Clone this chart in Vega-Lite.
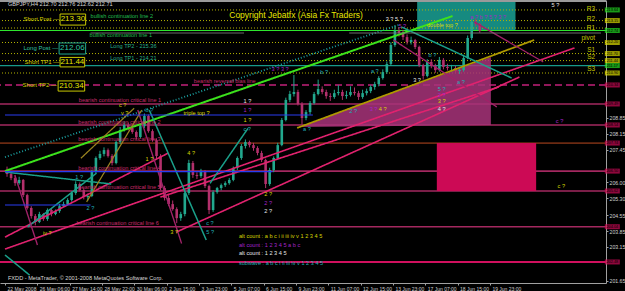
{
"$schema":"https://vega.github.io/schema/vega-lite/v6.json",
"width":606,"height":283,
"autosize":{"type":"none"},
"padding":{"left":0,"top":0,"right":19,"bottom":8},
"background":"#000000",
"config":{"view":{"stroke":null},"font":"Liberation Sans",
 "axisX":{"labelAlign":"left","labelBaseline":"top","labelOffset":2,"labelPadding":1,"labelFontSize":5,"labelColor":"#d0d0d0","labelOverlap":false,"labelBound":false,"labelFlush":false,"tickSize":2,"tickColor":"#a0a0a0","domainColor":"#a0a0a0","grid":false},
 "axisY":{"labelFontSize":5.2,"labelColor":"#d0d0d0","labelPadding":1,"tickSize":2,"tickColor":"#a0a0a0","domainColor":"#a0a0a0","grid":false,"labelOverlap":false,"labelBound":false,"labelFlush":false,"labelAlign":"left"}},
"datasets":{
"zones":[{"x":101.50,"x2":125.84,"p":213.98,"p2":212.70,"zone":"teal zone"},{"x":106.37,"x2":130.95,"p":207.74,"p2":205.62,"zone":"pink zone"}],
"hlevels":[{"p":213.63,"kind":"pivot"},{"p":213.16,"kind":"pivot"},{"p":212.83,"kind":"pivot"},{"p":212.19,"kind":"pivot"},{"p":211.70,"kind":"pivot"},{"p":211.39,"kind":"pivot"},{"p":210.84,"kind":"pivot"},{"p":212.72,"kind":"bullish continuation"},{"p":211.17,"kind":"long entry"},{"p":210.31,"kind":"bias"},{"p":209.47,"kind":"critical"},{"p":208.54,"kind":"critical"},{"p":207.74,"kind":"critical 3"},{"p":206.50,"kind":"critical"},{"p":205.62,"kind":"critical"},{"p":204.04,"kind":"critical"},{"p":202.48,"kind":"support"},{"p":214.03,"kind":"frame"}],
"triangle":[{"x":72.28,"top":208.45,"bot":208.45},{"x":119.75,"top":211.55,"bot":208.54}],
"candles":[
{"x":0,"o":206.55,"h":206.70,"l":206.25,"c":206.37},
{"x":1,"o":206.37,"h":206.50,"l":206.10,"c":206.19},
{"x":2,"o":206.19,"h":206.30,"l":205.85,"c":205.97},
{"x":3,"o":205.97,"h":206.25,"l":205.90,"c":206.11},
{"x":4,"o":206.11,"h":206.15,"l":205.35,"c":205.44},
{"x":5,"o":205.44,"h":205.50,"l":204.80,"c":204.87},
{"x":6,"o":204.87,"h":204.95,"l":204.40,"c":204.51},
{"x":7,"o":204.51,"h":204.60,"l":204.10,"c":204.25},
{"x":8,"o":204.25,"h":204.70,"l":204.20,"c":204.60},
{"x":9,"o":204.60,"h":204.65,"l":204.30,"c":204.38},
{"x":10,"o":204.38,"h":204.85,"l":204.30,"c":204.78},
{"x":11,"o":204.78,"h":204.85,"l":204.50,"c":204.60},
{"x":12,"o":204.60,"h":204.80,"l":204.55,"c":204.73},
{"x":13,"o":204.73,"h":205.05,"l":204.65,"c":204.95},
{"x":14,"o":204.95,"h":205.15,"l":204.90,"c":205.04},
{"x":15,"o":205.04,"h":205.30,"l":205.00,"c":205.22},
{"x":16,"o":205.22,"h":205.60,"l":205.15,"c":205.53},
{"x":17,"o":205.53,"h":206.05,"l":205.45,"c":205.93},
{"x":18,"o":205.93,"h":206.00,"l":205.60,"c":205.66},
{"x":19,"o":205.66,"h":205.75,"l":205.25,"c":205.35},
{"x":20,"o":205.35,"h":205.50,"l":205.20,"c":205.40},
{"x":21,"o":205.40,"h":206.55,"l":205.35,"c":206.46},
{"x":22,"o":206.46,"h":207.15,"l":206.40,"c":207.08},
{"x":23,"o":207.08,"h":207.40,"l":207.00,"c":207.26},
{"x":24,"o":207.26,"h":207.55,"l":207.15,"c":207.43},
{"x":25,"o":207.43,"h":207.50,"l":207.10,"c":207.17},
{"x":26,"o":207.17,"h":207.25,"l":206.75,"c":206.86},
{"x":27,"o":206.86,"h":207.85,"l":206.80,"c":207.79},
{"x":28,"o":207.79,"h":208.45,"l":207.70,"c":208.32},
{"x":29,"o":208.32,"h":208.70,"l":208.25,"c":208.54},
{"x":30,"o":208.54,"h":208.65,"l":208.30,"c":208.41},
{"x":31,"o":208.41,"h":208.50,"l":208.15,"c":208.23},
{"x":32,"o":208.23,"h":208.30,"l":207.90,"c":208.01},
{"x":33,"o":208.01,"h":208.55,"l":207.95,"c":208.49},
{"x":34,"o":208.49,"h":209.05,"l":208.40,"c":208.94},
{"x":35,"o":208.94,"h":209.00,"l":208.20,"c":208.27},
{"x":36,"o":208.27,"h":208.35,"l":207.80,"c":207.87},
{"x":37,"o":207.87,"h":207.95,"l":207.05,"c":207.17},
{"x":38,"o":207.17,"h":207.25,"l":205.65,"c":205.75},
{"x":39,"o":205.75,"h":205.85,"l":205.20,"c":205.31},
{"x":40,"o":205.31,"h":205.45,"l":204.95,"c":205.04},
{"x":41,"o":205.04,"h":205.20,"l":204.75,"c":204.82},
{"x":42,"o":204.82,"h":204.90,"l":204.20,"c":204.42},
{"x":43,"o":204.42,"h":204.70,"l":204.30,"c":204.60},
{"x":44,"o":204.60,"h":205.60,"l":204.50,"c":205.53},
{"x":45,"o":205.53,"h":207.00,"l":205.45,"c":206.86},
{"x":46,"o":206.86,"h":206.95,"l":206.20,"c":206.33},
{"x":47,"o":206.33,"h":206.45,"l":206.15,"c":206.28},
{"x":48,"o":206.28,"h":206.60,"l":206.20,"c":206.50},
{"x":49,"o":206.50,"h":206.55,"l":205.75,"c":205.84},
{"x":50,"o":205.84,"h":205.90,"l":204.60,"c":204.78},
{"x":51,"o":204.78,"h":205.65,"l":204.70,"c":205.57},
{"x":52,"o":205.57,"h":205.80,"l":205.50,"c":205.75},
{"x":53,"o":205.75,"h":205.95,"l":205.65,"c":205.88},
{"x":54,"o":205.88,"h":206.05,"l":205.80,"c":205.97},
{"x":55,"o":205.97,"h":206.20,"l":205.90,"c":206.11},
{"x":56,"o":206.11,"h":206.70,"l":206.05,"c":206.64},
{"x":57,"o":206.64,"h":207.15,"l":206.55,"c":207.08},
{"x":58,"o":207.08,"h":207.70,"l":207.00,"c":207.61},
{"x":59,"o":207.61,"h":207.90,"l":207.50,"c":207.79},
{"x":60,"o":207.79,"h":207.85,"l":207.55,"c":207.65},
{"x":61,"o":207.65,"h":207.75,"l":207.40,"c":207.52},
{"x":62,"o":207.52,"h":207.60,"l":207.20,"c":207.30},
{"x":63,"o":207.30,"h":207.40,"l":206.90,"c":206.99},
{"x":64,"o":206.99,"h":207.05,"l":205.75,"c":205.93},
{"x":65,"o":205.93,"h":206.65,"l":205.85,"c":206.55},
{"x":66,"o":206.55,"h":207.15,"l":206.45,"c":207.08},
{"x":67,"o":207.08,"h":207.75,"l":207.00,"c":207.65},
{"x":68,"o":207.65,"h":208.85,"l":207.60,"c":208.76},
{"x":69,"o":208.76,"h":209.75,"l":208.70,"c":209.65},
{"x":70,"o":209.65,"h":210.05,"l":209.55,"c":209.91},
{"x":71,"o":209.91,"h":210.75,"l":209.80,"c":210.00},
{"x":72,"o":210.00,"h":210.10,"l":209.40,"c":209.47},
{"x":73,"o":209.47,"h":209.55,"l":208.55,"c":208.85},
{"x":74,"o":208.85,"h":209.20,"l":208.75,"c":209.11},
{"x":75,"o":209.11,"h":209.60,"l":209.00,"c":209.51},
{"x":76,"o":209.51,"h":210.00,"l":209.45,"c":209.91},
{"x":77,"o":209.91,"h":210.55,"l":209.85,"c":210.13},
{"x":78,"o":210.13,"h":210.25,"l":209.90,"c":210.00},
{"x":79,"o":210.00,"h":210.10,"l":209.70,"c":209.82},
{"x":80,"o":209.82,"h":209.95,"l":209.60,"c":209.78},
{"x":81,"o":209.78,"h":210.10,"l":209.70,"c":209.95},
{"x":82,"o":209.95,"h":210.30,"l":209.85,"c":210.00},
{"x":83,"o":210.00,"h":210.10,"l":209.65,"c":209.82},
{"x":84,"o":209.82,"h":210.05,"l":209.70,"c":209.87},
{"x":85,"o":209.87,"h":210.25,"l":209.80,"c":210.00},
{"x":86,"o":210.00,"h":210.20,"l":209.85,"c":209.95},
{"x":87,"o":209.95,"h":210.05,"l":209.65,"c":209.78},
{"x":88,"o":209.78,"h":210.10,"l":209.70,"c":209.95},
{"x":89,"o":209.95,"h":210.15,"l":209.85,"c":210.04},
{"x":90,"o":210.04,"h":210.30,"l":209.95,"c":210.22},
{"x":91,"o":210.22,"h":210.45,"l":210.10,"c":210.35},
{"x":92,"o":210.35,"h":210.70,"l":210.25,"c":210.62},
{"x":93,"o":210.62,"h":211.00,"l":210.55,"c":210.88},
{"x":94,"o":210.88,"h":211.35,"l":210.80,"c":211.24},
{"x":95,"o":211.24,"h":212.20,"l":211.15,"c":212.08},
{"x":96,"o":212.08,"h":212.95,"l":212.00,"c":212.70},
{"x":97,"o":212.70,"h":212.85,"l":212.45,"c":212.61},
{"x":98,"o":212.61,"h":212.75,"l":212.30,"c":212.43},
{"x":99,"o":212.43,"h":212.55,"l":212.10,"c":212.21},
{"x":100,"o":212.21,"h":212.45,"l":212.10,"c":212.30},
{"x":101,"o":212.30,"h":212.35,"l":211.90,"c":211.99},
{"x":102,"o":211.99,"h":212.05,"l":211.10,"c":211.19},
{"x":103,"o":211.19,"h":211.25,"l":210.55,"c":210.71},
{"x":104,"o":210.71,"h":211.45,"l":210.65,"c":211.33},
{"x":105,"o":211.33,"h":211.45,"l":211.05,"c":211.15},
{"x":106,"o":211.15,"h":211.25,"l":210.85,"c":210.97},
{"x":107,"o":210.97,"h":211.55,"l":210.90,"c":211.42},
{"x":108,"o":211.42,"h":211.50,"l":211.00,"c":211.11},
{"x":109,"o":211.11,"h":211.25,"l":210.95,"c":211.06},
{"x":110,"o":211.06,"h":211.20,"l":210.90,"c":211.06},
{"x":111,"o":211.06,"h":211.15,"l":210.85,"c":210.93},
{"x":112,"o":210.93,"h":211.05,"l":210.80,"c":210.97},
{"x":113,"o":210.97,"h":211.60,"l":210.90,"c":211.50},
{"x":114,"o":211.50,"h":212.50,"l":211.45,"c":212.39},
{"x":115,"o":212.39,"h":213.25,"l":212.30,"c":213.10},
{"x":116,"o":213.10,"h":213.25,"l":212.90,"c":213.01},
{"x":117,"o":213.01,"h":213.05,"l":212.62,"c":212.71}
],
"segments":[
{"x":-0.5,"x2":110.26,"p":206.50,"p2":213.36,"kind":"bullish trend"},
{"x":-0.5,"x2":96.87,"p":207.12,"p2":212.96,"kind":"upper channel"},
{"x":71.80,"x2":130.47,"p":208.41,"p2":212.30,"kind":"triangle edge"},
{"x":-0.5,"x2":39.91,"p":203.58,"p2":207.30,"kind":"bearish trend"},
{"x":-0.5,"x2":140.45,"p":203.05,"p2":211.95,"kind":"bearish trend"},
{"x":37.96,"x2":121.70,"p":205.35,"p2":210.22,"kind":"bearish trend"},
{"x":41.86,"x2":126.81,"p":203.80,"p2":210.66,"kind":"bearish trend"},
{"x":-0.5,"x2":25.79,"p":206.46,"p2":205.93,"kind":"wave teal"},
{"x":5.10,"x2":22.14,"p":204.03,"p2":206.41,"kind":"wave teal"},
{"x":35.21,"x2":49.31,"p":209.20,"p2":203.45,"kind":"wave teal"},
{"x":50.25,"x2":59.63,"p":205.96,"p2":208.39,"kind":"wave teal"},
{"x":97.60,"x2":124.87,"p":212.88,"p2":210.62,"kind":"wave teal"},
{"x":-0.5,"x2":5.59,"p":202.79,"p2":201.90,"kind":"wave teal"},
{"x":32.36,"x2":43.20,"p":209.20,"p2":203.30,"kind":"wave magenta"},
{"x":1.93,"x2":7.53,"p":206.33,"p2":203.23,"kind":"wave magenta"},
{"x":115.60,"x2":132.70,"p":213.10,"p2":211.33,"kind":"wave magenta"},
{"x":95.65,"x2":121.22,"p":212.30,"p2":209.34,"kind":"wave magenta"},
{"x":18.29,"x2":31.46,"p":207.07,"p2":209.28,"kind":"wave olive"},
{"x":19.70,"x2":33.34,"p":205.14,"p2":209.20,"kind":"wave olive"},
{"x":-0.5,"x2":75.69,"p":208.98,"p2":208.98,"kind":"blue level"},
{"x":-0.5,"x2":65.71,"p":206.48,"p2":206.48,"kind":"blue level"},
{"x":-0.5,"x2":20.68,"p":205.00,"p2":205.00,"kind":"blue level"},
{"x":20.68,"x2":58.65,"p":212.61,"p2":212.61,"kind":"gray level"},
{"x":84.70,"x2":147,"p":212.61,"p2":212.61,"kind":"gray level"}
],
"boxes":[
{"x":13.13,"x2":19.46,"p":213.45,"p2":212.96,"side":"short"},
{"x":12.89,"x2":19.46,"p":212.17,"p2":211.68,"side":"long"},
{"x":13.13,"x2":19.22,"p":211.53,"p2":211.11,"side":"short"},
{"x":12.65,"x2":19.22,"p":210.49,"p2":210.04,"side":"short"}
],
"boxvals":[
{"x":16.30,"p":213.21,"label":"213.30","side":"short"},
{"x":16.17,"p":211.93,"label":"212.06","side":"long"},
{"x":16.17,"p":211.32,"label":"211.44","side":"short"},
{"x":15.93,"p":210.27,"label":"210.34","side":"short"}
],
"captions":[
{"x":12.9,"p":213.22,"label":"Short Post —","side":"short"},
{"x":12.65,"p":211.95,"label":"Long Post —","side":"long"},
{"x":12.9,"p":211.33,"label":"Short TP1 —","side":"short"},
{"x":12.4,"p":210.29,"label":"Short TP2 —","side":"short"}
],
"notes":[
{"x":0.23,"p":213.89,"label":"GBPJPY,H4  212.70 212.76 212.62 212.71","series":"header"},
{"x":0.23,"p":201.77,"label":"FXDD - MetaTrader, © 2001-2008 MetaQuotes Software Corp.","series":"header"},
{"x":20.68,"p":213.36,"label":"bullish continuation line 2","series":"bullish"},
{"x":20.43,"p":212.52,"label":"bullish continuation line 1","series":"bullish"},
{"x":25.55,"p":212.03,"label":"Long TP2 - 215.36","series":"target"},
{"x":25.55,"p":211.50,"label":"Long TP1 - 214.21","series":"target"},
{"x":46.24,"p":210.50,"label":"bearish reversal bias line","series":"bearish"},
{"x":17.76,"p":209.65,"label":"bearish continuation critical line 1","series":"bearish"},
{"x":17.64,"p":208.67,"label":"bearish continuation critical line 2","series":"bearish"},
{"x":17.64,"p":207.92,"label":"bearish continuation critical line 3","series":"bearish"},
{"x":17.64,"p":206.65,"label":"bearish continuation critical line 4","series":"bearish"},
{"x":17.64,"p":205.78,"label":"bearish continuation critical line 5","series":"bearish"},
{"x":17.17,"p":204.22,"label":"bearish continuation critical line 6","series":"bearish"},
{"x":43.68,"p":209.07,"label":"triple top ?","series":"note"},
{"x":103.93,"p":212.96,"label":"double top ?","series":"note"},
{"x":57.39,"p":203.63,"label":"alt count : a b c i ii iii iv v 1 2 3 4 5","series":"alt"},
{"x":57.39,"p":203.24,"label":"alt count : 1 2 3 4 5 a b c","series":"alt2"},
{"x":57.39,"p":202.89,"label":"alt count : 1 2 3 4 5","series":"primary"},
{"x":57.39,"p":202.45,"label":"subwave : a b c i ii iii iv v 1 2 3 4 5","series":"subwave"},
{"x":58.53,"p":209.60,"label":"1 ?","series":"primary"},
{"x":58.53,"p":209.19,"label":"1 ?","series":"alt2"},
{"x":58.53,"p":208.75,"label":"1 ?","series":"alt"},
{"x":58.53,"p":208.35,"label":"c ?","series":"subwave"},
{"x":63.69,"p":205.47,"label":"2 ?","series":"alt"},
{"x":63.69,"p":205.10,"label":"2 ?","series":"alt2"},
{"x":63.69,"p":204.73,"label":"2 ?","series":"primary"},
{"x":27.69,"p":209.41,"label":"c ?","series":"alt"},
{"x":28.18,"p":209.08,"label":"v ?","series":"alt"},
{"x":34.29,"p":209.20,"label":"b ?","series":"subwave"},
{"x":16.88,"p":206.25,"label":"1 ?","series":"subwave"},
{"x":19.70,"p":204.87,"label":"2 ?","series":"subwave"},
{"x":8.90,"p":203.77,"label":"iv ?","series":"alt"},
{"x":34.29,"p":207.03,"label":"1 ?","series":"alt"},
{"x":44.61,"p":207.29,"label":"4 ?","series":"alt"},
{"x":40.40,"p":203.79,"label":"3 ?","series":"alt"},
{"x":49.31,"p":203.79,"label":"5 ?","series":"subwave"},
{"x":49.31,"p":204.22,"label":"c ?","series":"subwave"},
{"x":135.82,"p":208.72,"label":"c ?","series":"alt2"},
{"x":136.26,"p":205.84,"label":"c ?","series":"alt"},
{"x":134.77,"p":213.85,"label":"5 ?","series":"primary"},
{"x":93.71,"p":213.23,"label":"3 ? 5 ?","series":"primary"},
{"x":96.87,"p":212.92,"label":"5 ?","series":"alt2"},
{"x":65.47,"p":211.00,"label":"3 ? 3 ?","series":"alt2"},
{"x":77.52,"p":210.90,"label":"b ?","series":"subwave"},
{"x":73.26,"p":208.36,"label":"a ?","series":"subwave"},
{"x":84.70,"p":209.17,"label":"2 ?","series":"subwave"},
{"x":89.74,"p":209.25,"label":"3 ?","series":"alt2"},
{"x":92.00,"p":209.25,"label":"4 ?","series":"alt"},
{"x":100.52,"p":210.53,"label":"3 ?","series":"primary"},
{"x":106.61,"p":210.13,"label":"5 ?","series":"subwave"},
{"x":106.61,"p":209.87,"label":"2 ?","series":"alt2"},
{"x":106.61,"p":209.58,"label":"3 ?","series":"alt"},
{"x":106.61,"p":209.25,"label":"4 ?","series":"primary"},
{"x":111.36,"p":210.46,"label":"a ?","series":"subwave"},
{"x":104.30,"p":211.64,"label":"b ?","series":"subwave"},
{"x":114.64,"p":213.32,"label":"a ? b ? 5 ? 3 ?","series":"alt2"},
{"x":90.06,"p":210.93,"label":"a ?","series":"subwave"}
],
"levelnames":[
{"x":145.56,"p":213.69,"label":"R3"},
{"x":145.56,"p":213.25,"label":"R2"},
{"x":145.56,"p":212.85,"label":"R1"},
{"x":145.56,"p":212.37,"label":"pivot"},
{"x":145.56,"p":211.88,"label":"S1"},
{"x":145.56,"p":211.53,"label":"S2"},
{"x":145.56,"p":211.02,"label":"S3"}
],
"copyright":[{"x":55.0,"p":213.41,"label":"Copyright Jebatfx (Asia Fx Traders)"}],
"tags":[
{"p":213.63,"label":"213.64","kind":"bullish"},
{"p":213.16,"label":"213.15","kind":"pivot"},
{"p":212.72,"label":"212.74","kind":"bullish"},
{"p":212.19,"label":"212.20","kind":"pivot"},
{"p":211.70,"label":"211.70","kind":"pivot"},
{"p":211.39,"label":"211.44","kind":"pivot"},
{"p":211.17,"label":"211.17","kind":"bullish"},
{"p":210.84,"label":"210.90","kind":"pivot"},
{"p":210.31,"label":"210.34","kind":"critical"},
{"p":209.47,"label":"209.49","kind":"critical"},
{"p":208.54,"label":"208.54","kind":"critical"},
{"p":207.74,"label":"207.74","kind":"critical"},
{"p":206.50,"label":"206.50","kind":"critical"},
{"p":205.62,"label":"205.62","kind":"critical"},
{"p":204.04,"label":"204.04","kind":"critical"},
{"p":202.48,"label":"202.48","kind":"critical"}
]
},
"layer":[
{"data":{"name":"zones"},"transform":[{"filter":"datum.zone == 'teal zone'"}],
 "mark":{"type":"rect","color":"#168a80"},
 "encoding":{
  "x":{"field":"x","type":"quantitative","scale":{"domain":[-0.5,147],"nice":false,"zero":false},"axis":{"orient":"bottom","title":null,"values":[-0.5,7.5,15.5,23.5,31.5,39.5,47.5,55.5,63.5,71.5,79.5,87.5,95.5,103.5,111.5,119.5],"labelExpr":"['22 May 2008','26 May 06:00','27 May 14:00','28 May 22:00','30 May 06:00','2 Jun 15:00','3 Jun 23:00','5 Jun 07:00','6 Jun 15:00','9 Jun 23:00','11 Jun 07:00','12 Jun 15:00','13 Jun 23:00','17 Jun 07:00','18 Jun 15:00','19 Jun 23:00'][round((datum.value+0.5)/8)]"}},
  "x2":{"field":"x2"},
  "y":{"field":"p","type":"quantitative","scale":{"domain":[201.55,214.07],"nice":false,"zero":false},"axis":{"orient":"right","title":null,"format":".2f","values":[201.65,203.15,203.85,204.55,205.30,206.00,207.45,208.15,208.85]}},
  "y2":{"field":"p2"}}},
{"data":{"name":"hlevels"},"mark":{"type":"rule"},
 "encoding":{
  "y":{"field":"p","type":"quantitative","scale":{"domain":[201.55,214.07],"nice":false,"zero":false},"axis":{"orient":"right","title":null,"format":".2f","values":[201.65,203.15,203.85,204.55,205.30,206.00,207.45,208.15,208.85]}},
  "color":{"field":"kind","type":"nominal","legend":null,"scale":{"domain":["pivot","bullish continuation","long entry","bias","critical","critical 3","support","frame"],"range":["#b4b400","#2ee62e","#179a8a","#c2207a","#a3285f","#6b2a12","#d0105e","#9a9a9a"]}},
  "strokeWidth":{"field":"kind","type":"nominal","legend":null,"scale":{"domain":["pivot","bullish continuation","long entry","bias","critical","critical 3","support","frame"],"range":[1,2,1,1,1,2.5,2,1]}},
  "strokeDash":{"field":"kind","type":"nominal","legend":null,"scale":{"domain":["pivot","bullish continuation","long entry","bias","critical","critical 3","support","frame"],"range":[[1,2],[1,0],[1,0],[7,4],[1,0],[1,0],[1,0],[1,0]]}}}},
{"data":{"name":"triangle"},"mark":{"type":"area","orient":"vertical","color":"#a8347a","opacity":0.85},
 "encoding":{
  "x":{"field":"x","type":"quantitative","scale":{"domain":[-0.5,147],"nice":false,"zero":false},"axis":{"orient":"bottom","title":null,"values":[-0.5,7.5,15.5,23.5,31.5,39.5,47.5,55.5,63.5,71.5,79.5,87.5,95.5,103.5,111.5,119.5],"labelExpr":"['22 May 2008','26 May 06:00','27 May 14:00','28 May 22:00','30 May 06:00','2 Jun 15:00','3 Jun 23:00','5 Jun 07:00','6 Jun 15:00','9 Jun 23:00','11 Jun 07:00','12 Jun 15:00','13 Jun 23:00','17 Jun 07:00','18 Jun 15:00','19 Jun 23:00'][round((datum.value+0.5)/8)]"}},
  "y":{"field":"top","type":"quantitative","scale":{"domain":[201.55,214.07],"nice":false,"zero":false},"axis":{"orient":"right","title":null,"format":".2f","values":[201.65,203.15,203.85,204.55,205.30,206.00,207.45,208.15,208.85]}},
  "y2":{"field":"bot"}}},
{"data":{"name":"zones"},"transform":[{"filter":"datum.zone == 'pink zone'"}],
 "mark":{"type":"rect","color":"#cc0a55"},
 "encoding":{
  "x":{"field":"x","type":"quantitative","scale":{"domain":[-0.5,147],"nice":false,"zero":false},"axis":{"orient":"bottom","title":null,"values":[-0.5,7.5,15.5,23.5,31.5,39.5,47.5,55.5,63.5,71.5,79.5,87.5,95.5,103.5,111.5,119.5],"labelExpr":"['22 May 2008','26 May 06:00','27 May 14:00','28 May 22:00','30 May 06:00','2 Jun 15:00','3 Jun 23:00','5 Jun 07:00','6 Jun 15:00','9 Jun 23:00','11 Jun 07:00','12 Jun 15:00','13 Jun 23:00','17 Jun 07:00','18 Jun 15:00','19 Jun 23:00'][round((datum.value+0.5)/8)]"}},
  "x2":{"field":"x2"},
  "y":{"field":"p","type":"quantitative","scale":{"domain":[201.55,214.07],"nice":false,"zero":false},"axis":{"orient":"right","title":null,"format":".2f","values":[201.65,203.15,203.85,204.55,205.30,206.00,207.45,208.15,208.85]}},
  "y2":{"field":"p2"}}},
{"data":{"name":"candles"},"mark":{"type":"rule","strokeWidth":1},
 "encoding":{
  "x":{"field":"x","type":"quantitative","scale":{"domain":[-0.5,147],"nice":false,"zero":false},"axis":{"orient":"bottom","title":null,"values":[-0.5,7.5,15.5,23.5,31.5,39.5,47.5,55.5,63.5,71.5,79.5,87.5,95.5,103.5,111.5,119.5],"labelExpr":"['22 May 2008','26 May 06:00','27 May 14:00','28 May 22:00','30 May 06:00','2 Jun 15:00','3 Jun 23:00','5 Jun 07:00','6 Jun 15:00','9 Jun 23:00','11 Jun 07:00','12 Jun 15:00','13 Jun 23:00','17 Jun 07:00','18 Jun 15:00','19 Jun 23:00'][round((datum.value+0.5)/8)]"}},
  "y":{"field":"l","type":"quantitative","scale":{"domain":[201.55,214.07],"nice":false,"zero":false},"axis":{"orient":"right","title":null,"format":".2f","values":[201.65,203.15,203.85,204.55,205.30,206.00,207.45,208.15,208.85]}},
  "y2":{"field":"h"},
  "color":{"condition":{"test":"datum.c >= datum.o","value":"#22a88e"},"value":"#b3306c"}}},
{"data":{"name":"candles"},"mark":{"type":"bar","width":2.6},
 "encoding":{
  "x":{"field":"x","type":"quantitative","scale":{"domain":[-0.5,147],"nice":false,"zero":false},"axis":{"orient":"bottom","title":null,"values":[-0.5,7.5,15.5,23.5,31.5,39.5,47.5,55.5,63.5,71.5,79.5,87.5,95.5,103.5,111.5,119.5],"labelExpr":"['22 May 2008','26 May 06:00','27 May 14:00','28 May 22:00','30 May 06:00','2 Jun 15:00','3 Jun 23:00','5 Jun 07:00','6 Jun 15:00','9 Jun 23:00','11 Jun 07:00','12 Jun 15:00','13 Jun 23:00','17 Jun 07:00','18 Jun 15:00','19 Jun 23:00'][round((datum.value+0.5)/8)]"}},
  "y":{"field":"o","type":"quantitative","scale":{"domain":[201.55,214.07],"nice":false,"zero":false},"axis":{"orient":"right","title":null,"format":".2f","values":[201.65,203.15,203.85,204.55,205.30,206.00,207.45,208.15,208.85]}},
  "y2":{"field":"c"},
  "color":{"condition":{"test":"datum.c >= datum.o","value":"#22a88e"},"value":"#b3306c"}}},
{"data":{"name":"segments"},"mark":{"type":"rule"},
 "encoding":{
  "x":{"field":"x","type":"quantitative","scale":{"domain":[-0.5,147],"nice":false,"zero":false},"axis":{"orient":"bottom","title":null,"values":[-0.5,7.5,15.5,23.5,31.5,39.5,47.5,55.5,63.5,71.5,79.5,87.5,95.5,103.5,111.5,119.5],"labelExpr":"['22 May 2008','26 May 06:00','27 May 14:00','28 May 22:00','30 May 06:00','2 Jun 15:00','3 Jun 23:00','5 Jun 07:00','6 Jun 15:00','9 Jun 23:00','11 Jun 07:00','12 Jun 15:00','13 Jun 23:00','17 Jun 07:00','18 Jun 15:00','19 Jun 23:00'][round((datum.value+0.5)/8)]"}},
  "x2":{"field":"x2"},
  "y":{"field":"p","type":"quantitative","scale":{"domain":[201.55,214.07],"nice":false,"zero":false},"axis":{"orient":"right","title":null,"format":".2f","values":[201.65,203.15,203.85,204.55,205.30,206.00,207.45,208.15,208.85]}},
  "y2":{"field":"p2"},
  "color":{"field":"kind","type":"nominal","legend":null,"scale":{"domain":["bullish trend","upper channel","triangle edge","bearish trend","wave teal","wave magenta","wave olive","blue level","gray level"],"range":["#3ce21c","#1a9a9a","#b09a00","#e0226e","#1aa08a","#a02268","#9a8420","#2a3cf0","#7a7a7a"]}},
  "strokeWidth":{"field":"kind","type":"nominal","legend":null,"scale":{"domain":["bullish trend","upper channel","triangle edge","bearish trend","wave teal","wave magenta","wave olive","blue level","gray level"],"range":[2,1,1.5,1.5,1,1,1,3,1]}},
  "strokeDash":{"field":"kind","type":"nominal","legend":null,"scale":{"domain":["bullish trend","upper channel","triangle edge","bearish trend","wave teal","wave magenta","wave olive","blue level","gray level"],"range":[[1,0],[1,2],[1,0],[1,0],[1,0],[1,0],[1,0],[1,0],[1,0]]}}}},
{"data":{"name":"boxes"},"mark":{"type":"rect","fill":"#000000","strokeWidth":1},
 "encoding":{
  "x":{"field":"x","type":"quantitative","scale":{"domain":[-0.5,147],"nice":false,"zero":false},"axis":{"orient":"bottom","title":null,"values":[-0.5,7.5,15.5,23.5,31.5,39.5,47.5,55.5,63.5,71.5,79.5,87.5,95.5,103.5,111.5,119.5],"labelExpr":"['22 May 2008','26 May 06:00','27 May 14:00','28 May 22:00','30 May 06:00','2 Jun 15:00','3 Jun 23:00','5 Jun 07:00','6 Jun 15:00','9 Jun 23:00','11 Jun 07:00','12 Jun 15:00','13 Jun 23:00','17 Jun 07:00','18 Jun 15:00','19 Jun 23:00'][round((datum.value+0.5)/8)]"}},
  "x2":{"field":"x2"},
  "y":{"field":"p","type":"quantitative","scale":{"domain":[201.55,214.07],"nice":false,"zero":false},"axis":{"orient":"right","title":null,"format":".2f","values":[201.65,203.15,203.85,204.55,205.30,206.00,207.45,208.15,208.85]}},
  "y2":{"field":"p2"},
  "stroke":{"field":"side","type":"nominal","legend":null,"scale":{"domain":["short","long"],"range":["#c8c800","#20a890"]}}}},
{"data":{"name":"boxvals"},"mark":{"type":"text","align":"center","baseline":"middle","fontSize":8},
 "encoding":{
  "x":{"field":"x","type":"quantitative","scale":{"domain":[-0.5,147],"nice":false,"zero":false},"axis":{"orient":"bottom","title":null,"values":[-0.5,7.5,15.5,23.5,31.5,39.5,47.5,55.5,63.5,71.5,79.5,87.5,95.5,103.5,111.5,119.5],"labelExpr":"['22 May 2008','26 May 06:00','27 May 14:00','28 May 22:00','30 May 06:00','2 Jun 15:00','3 Jun 23:00','5 Jun 07:00','6 Jun 15:00','9 Jun 23:00','11 Jun 07:00','12 Jun 15:00','13 Jun 23:00','17 Jun 07:00','18 Jun 15:00','19 Jun 23:00'][round((datum.value+0.5)/8)]"}},
  "y":{"field":"p","type":"quantitative","scale":{"domain":[201.55,214.07],"nice":false,"zero":false},"axis":{"orient":"right","title":null,"format":".2f","values":[201.65,203.15,203.85,204.55,205.30,206.00,207.45,208.15,208.85]}},
  "text":{"field":"label"},
  "color":{"field":"side","type":"nominal","legend":null,"scale":{"domain":["short","long"],"range":["#e6e600","#30c8a8"]}}}},
{"data":{"name":"captions"},"mark":{"type":"text","align":"right","baseline":"middle","fontSize":6},
 "encoding":{
  "x":{"field":"x","type":"quantitative","scale":{"domain":[-0.5,147],"nice":false,"zero":false},"axis":{"orient":"bottom","title":null,"values":[-0.5,7.5,15.5,23.5,31.5,39.5,47.5,55.5,63.5,71.5,79.5,87.5,95.5,103.5,111.5,119.5],"labelExpr":"['22 May 2008','26 May 06:00','27 May 14:00','28 May 22:00','30 May 06:00','2 Jun 15:00','3 Jun 23:00','5 Jun 07:00','6 Jun 15:00','9 Jun 23:00','11 Jun 07:00','12 Jun 15:00','13 Jun 23:00','17 Jun 07:00','18 Jun 15:00','19 Jun 23:00'][round((datum.value+0.5)/8)]"}},
  "y":{"field":"p","type":"quantitative","scale":{"domain":[201.55,214.07],"nice":false,"zero":false},"axis":{"orient":"right","title":null,"format":".2f","values":[201.65,203.15,203.85,204.55,205.30,206.00,207.45,208.15,208.85]}},
  "text":{"field":"label"},
  "color":{"field":"side","type":"nominal","legend":null,"scale":{"domain":["short","long"],"range":["#d2d200","#30c0a0"]}}}},
{"data":{"name":"notes"},"mark":{"type":"text","align":"left","baseline":"middle","fontSize":5.6},
 "encoding":{
  "x":{"field":"x","type":"quantitative","scale":{"domain":[-0.5,147],"nice":false,"zero":false},"axis":{"orient":"bottom","title":null,"values":[-0.5,7.5,15.5,23.5,31.5,39.5,47.5,55.5,63.5,71.5,79.5,87.5,95.5,103.5,111.5,119.5],"labelExpr":"['22 May 2008','26 May 06:00','27 May 14:00','28 May 22:00','30 May 06:00','2 Jun 15:00','3 Jun 23:00','5 Jun 07:00','6 Jun 15:00','9 Jun 23:00','11 Jun 07:00','12 Jun 15:00','13 Jun 23:00','17 Jun 07:00','18 Jun 15:00','19 Jun 23:00'][round((datum.value+0.5)/8)]"}},
  "y":{"field":"p","type":"quantitative","scale":{"domain":[201.55,214.07],"nice":false,"zero":false},"axis":{"orient":"right","title":null,"format":".2f","values":[201.65,203.15,203.85,204.55,205.30,206.00,207.45,208.15,208.85]}},
  "text":{"field":"label"},
  "color":{"field":"series","type":"nominal","legend":null,"scale":{"domain":["header","primary","alt","alt2","subwave","note","bearish","bullish","target"],"range":["#d8d8d8","#e6e6e6","#d6d600","#a424c8","#20b0b8","#dede00","#c92c6c","#20be50","#28ae88"]}}}},
{"data":{"name":"copyright"},"mark":{"type":"text","align":"left","baseline":"middle","fontSize":8.5,"color":"#e8e800"},
 "encoding":{
  "x":{"field":"x","type":"quantitative","scale":{"domain":[-0.5,147],"nice":false,"zero":false},"axis":{"orient":"bottom","title":null,"values":[-0.5,7.5,15.5,23.5,31.5,39.5,47.5,55.5,63.5,71.5,79.5,87.5,95.5,103.5,111.5,119.5],"labelExpr":"['22 May 2008','26 May 06:00','27 May 14:00','28 May 22:00','30 May 06:00','2 Jun 15:00','3 Jun 23:00','5 Jun 07:00','6 Jun 15:00','9 Jun 23:00','11 Jun 07:00','12 Jun 15:00','13 Jun 23:00','17 Jun 07:00','18 Jun 15:00','19 Jun 23:00'][round((datum.value+0.5)/8)]"}},
  "y":{"field":"p","type":"quantitative","scale":{"domain":[201.55,214.07],"nice":false,"zero":false},"axis":{"orient":"right","title":null,"format":".2f","values":[201.65,203.15,203.85,204.55,205.30,206.00,207.45,208.15,208.85]}},
  "text":{"field":"label"}}},
{"data":{"name":"levelnames"},"mark":{"type":"text","align":"right","baseline":"middle","fontSize":6.5,"color":"#c8c800"},
 "encoding":{
  "x":{"field":"x","type":"quantitative","scale":{"domain":[-0.5,147],"nice":false,"zero":false},"axis":{"orient":"bottom","title":null,"values":[-0.5,7.5,15.5,23.5,31.5,39.5,47.5,55.5,63.5,71.5,79.5,87.5,95.5,103.5,111.5,119.5],"labelExpr":"['22 May 2008','26 May 06:00','27 May 14:00','28 May 22:00','30 May 06:00','2 Jun 15:00','3 Jun 23:00','5 Jun 07:00','6 Jun 15:00','9 Jun 23:00','11 Jun 07:00','12 Jun 15:00','13 Jun 23:00','17 Jun 07:00','18 Jun 15:00','19 Jun 23:00'][round((datum.value+0.5)/8)]"}},
  "y":{"field":"p","type":"quantitative","scale":{"domain":[201.55,214.07],"nice":false,"zero":false},"axis":{"orient":"right","title":null,"format":".2f","values":[201.65,203.15,203.85,204.55,205.30,206.00,207.45,208.15,208.85]}},
  "text":{"field":"label"}}},
{"data":{"name":"tags"},"mark":{"type":"tick","orient":"horizontal","size":15,"thickness":5},
 "encoding":{
  "x":{"datum":149.8,"type":"quantitative","scale":{"domain":[-0.5,147],"nice":false,"zero":false},"axis":{"orient":"bottom","title":null,"values":[-0.5,7.5,15.5,23.5,31.5,39.5,47.5,55.5,63.5,71.5,79.5,87.5,95.5,103.5,111.5,119.5],"labelExpr":"['22 May 2008','26 May 06:00','27 May 14:00','28 May 22:00','30 May 06:00','2 Jun 15:00','3 Jun 23:00','5 Jun 07:00','6 Jun 15:00','9 Jun 23:00','11 Jun 07:00','12 Jun 15:00','13 Jun 23:00','17 Jun 07:00','18 Jun 15:00','19 Jun 23:00'][round((datum.value+0.5)/8)]"}},
  "y":{"field":"p","type":"quantitative","scale":{"domain":[201.55,214.07],"nice":false,"zero":false},"axis":{"orient":"right","title":null,"format":".2f","values":[201.65,203.15,203.85,204.55,205.30,206.00,207.45,208.15,208.85]}},
  "color":{"field":"kind","type":"nominal","legend":null,"scale":{"domain":["bullish","pivot","critical"],"range":["#22dd22","#e0e000","#cc0a55"]}}}},
{"data":{"name":"tags"},"mark":{"type":"text","align":"center","baseline":"middle","fontSize":3.8,"color":"#000000"},
 "encoding":{
  "x":{"datum":149.8,"type":"quantitative","scale":{"domain":[-0.5,147],"nice":false,"zero":false},"axis":{"orient":"bottom","title":null,"values":[-0.5,7.5,15.5,23.5,31.5,39.5,47.5,55.5,63.5,71.5,79.5,87.5,95.5,103.5,111.5,119.5],"labelExpr":"['22 May 2008','26 May 06:00','27 May 14:00','28 May 22:00','30 May 06:00','2 Jun 15:00','3 Jun 23:00','5 Jun 07:00','6 Jun 15:00','9 Jun 23:00','11 Jun 07:00','12 Jun 15:00','13 Jun 23:00','17 Jun 07:00','18 Jun 15:00','19 Jun 23:00'][round((datum.value+0.5)/8)]"}},
  "y":{"field":"p","type":"quantitative","scale":{"domain":[201.55,214.07],"nice":false,"zero":false},"axis":{"orient":"right","title":null,"format":".2f","values":[201.65,203.15,203.85,204.55,205.30,206.00,207.45,208.15,208.85]}},
  "text":{"field":"label"}}}
],
"resolve":{"scale":{"color":"independent","strokeWidth":"independent","strokeDash":"independent","stroke":"independent"}}
}
